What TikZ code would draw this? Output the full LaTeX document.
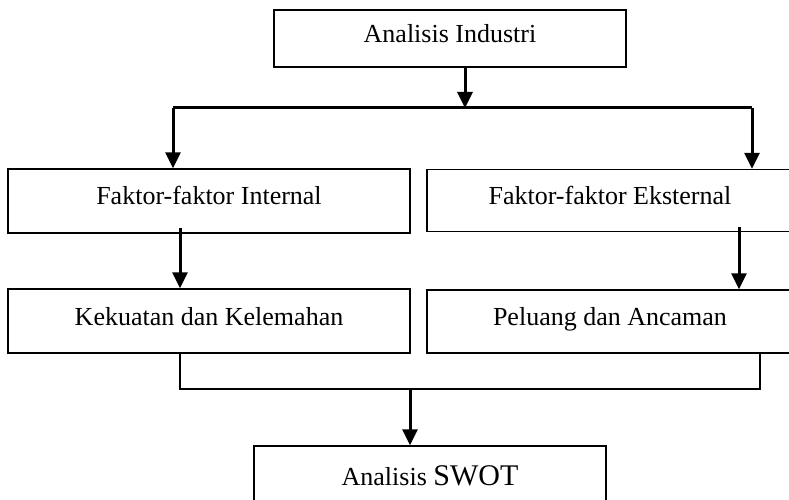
\documentclass[tikz,border=0pt]{standalone}
\usepackage{fontspec}
\setmainfont{Liberation Serif}
\usetikzlibrary{arrows.meta}
\begin{document}
\begin{tikzpicture}[x=1bp,y=-1bp,
  box/.style={draw=black,line width=1.4bp,rectangle,inner sep=0pt,
    font=\fontsize{26bp}{30bp}\selectfont,text height=17bp,text depth=9bp},
  arr/.style={line width=3bp,-{Triangle[width=15bp,length=16bp]}},
  thickline/.style={line width=3bp},
  thinline/.style={line width=2bp}]
\useasboundingbox (0,0) rectangle (789,500);
\clip (0,0) rectangle (789,500);
\node[box,minimum width=352bp,minimum height=57bp] (top) at (450,38.5) {Analisis Industri};
\node[box,minimum width=402bp,minimum height=64bp] (fi) at (209,201) {Faktor-faktor Internal};
\node[box,minimum width=366bp,minimum height=62bp] (fe) at (610,200.5) {Faktor-faktor Eksternal};
\node[box,minimum width=402bp,minimum height=64bp] (kk) at (209,321) {Kekuatan dan Kelemahan};
\node[box,minimum width=366bp,minimum height=63bp] (pa) at (610,321.5) {Peluang dan Ancaman};
\node[box,minimum width=352bp,minimum height=70bp] (sw) at (430,481) {Analisis {\fontsize{30bp}{34bp}\selectfont SWOT}};
\coordinate (h) at (465,108);
\coordinate (hl) at (173,108);
\coordinate (hr) at (752,108);
\coordinate (al) at (180,228);
\coordinate (ar) at (739,227);
\coordinate (bl) at (180,389);
\coordinate (br) at (760,389);
\coordinate (bm) at (410,389);
\draw[arr] (top.south -| h) -- (h);
\draw[thickline] (hl) -- (hr);
\draw[arr] (hl) -- (hl |- fi.north);
\draw[arr] (hr) -- (hr |- fe.north);
\draw[arr] (al) -- (al |- kk.north);
\draw[arr] (ar) -- (ar |- pa.north);
\draw[thinline] (bl |- kk.south) -- (bl) -- (br) -- (br |- pa.south);
\draw[arr] (bm) -- (bm |- sw.north);
\end{tikzpicture}
\end{document}
